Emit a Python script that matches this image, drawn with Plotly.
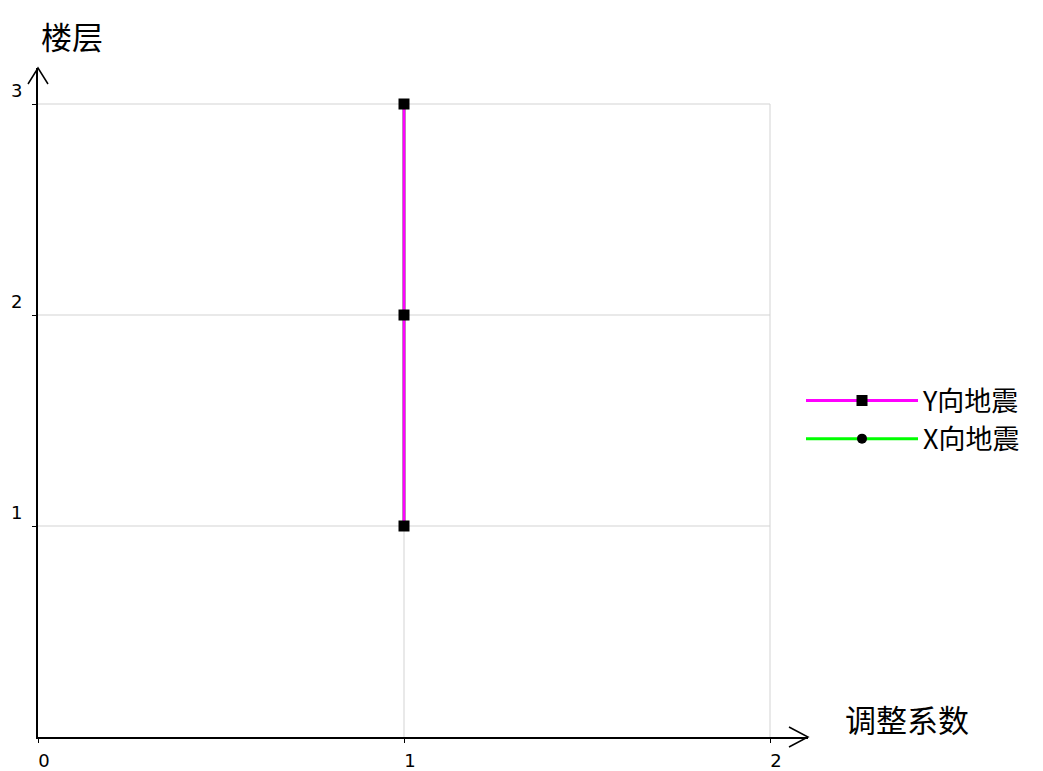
import plotly.graph_objects as go

# ---- data ----
floors = [1, 2, 3]
coef_y = [1, 1, 1]   # Y向地震
coef_x = [1, 1, 1]   # X向地震
x_ticks = [0, 1, 2]
x_ticklabels = ["0", "1", "2"]
y_ticks = [1, 2, 3]
y_ticklabels = ["1", "2", "3"]
name_y = "Y向地震"
name_x = "X向地震"
x_title = "调整系数"
y_title = "楼层"

OFF = 8  # page body margin
W, H = 1043 - OFF, 771 - OFF
L, T = 38 - OFF, 68 - OFF
R = W - (808 - OFF)
B = H - (737 - OFF)
pw, ph = W - L - R, H - T - B
x_max = 2 * pw / 732.0
y_max = 3 * ph / 633.0

cjk = "Noto Sans CJK SC"
fig = go.Figure()

fig.add_trace(go.Scatter(x=coef_x, y=floors, name=name_x, mode="lines+markers",
                         line=dict(color="#00ff00", width=3),
                         marker=dict(symbol="circle", size=10, color="black")))
fig.add_trace(go.Scatter(x=coef_y, y=floors, name=name_y, mode="lines+markers",
                         line=dict(color="#ff00ff", width=3),
                         marker=dict(symbol="square", size=11, color="black")))

shapes = []
# grid lines (stop at last tick)
for xv in x_ticks[1:]:
    shapes.append(dict(type="line", xref="x", yref="y", x0=xv, x1=xv, y0=0, y1=max(y_ticks),
                       line=dict(color="#d3d3d3", width=1), layer="below"))
for yv in y_ticks:
    shapes.append(dict(type="line", xref="x", yref="y", x0=0, x1=max(x_ticks), y0=yv, y1=yv,
                       line=dict(color="#d3d3d3", width=1), layer="below"))
# arrow heads (open V)
ax_back, ax_half = 19 / pw, 10 / ph
shapes.append(dict(type="path", xref="paper", yref="paper",
                   path=f"M {1-ax_back},{ax_half} L 1,0 L {1-ax_back},{-ax_half}",
                   line=dict(color="black", width=1.5)))
ay_back, ay_half = 16 / ph, 10 / pw
shapes.append(dict(type="path", xref="paper", yref="paper",
                   path=f"M {-ay_half},{1-ay_back} L 0,1 L {ay_half},{1-ay_back}",
                   line=dict(color="black", width=1.5)))

annotations = [
    dict(text=y_title, xref="paper", yref="paper", x=(72 - 38) / pw, y=1 + (68 - 35) / ph,
         showarrow=False, font=dict(family=cjk, size=31, color="black"),
         xanchor="center", yanchor="middle"),
    dict(text=x_title, xref="paper", yref="paper", x=(907 - 38) / pw, y=(737 - 718) / ph,
         showarrow=False, font=dict(family=cjk, size=31, color="black"),
         xanchor="center", yanchor="middle"),
]

fig.update_layout(
    width=W, height=H,
    margin=dict(l=L, r=R, t=T, b=B, autoexpand=False),
    paper_bgcolor="white", plot_bgcolor="white",
    shapes=shapes, annotations=annotations,
    showlegend=True,
    legend=dict(x=1.0 - 7 / pw, y=(737 - 420) / ph, xanchor="left", yanchor="middle",
                traceorder="reversed", itemwidth=112, bgcolor="rgba(0,0,0,0)",
                font=dict(family=cjk, size=27, color="black"),
                tracegroupgap=0, itemsizing="trace"),
    xaxis=dict(range=[0, x_max], tickvals=x_ticks, ticktext=x_ticklabels,
               showgrid=False, zeroline=False, showline=True, linecolor="black", linewidth=2,
               ticks="outside", ticklen=4, tickcolor="black", tickwidth=1,
               ticklabelshift=6, ticklabelstandoff=2,
               tickfont=dict(family="DejaVu Sans", size=18, color="black"), fixedrange=True),
    yaxis=dict(range=[0, y_max], tickvals=y_ticks, ticktext=y_ticklabels,
               showgrid=False, zeroline=False, showline=True, linecolor="black", linewidth=2,
               ticks="outside", ticklen=4, tickcolor="black", tickwidth=1,
               ticklabelshift=-13, ticklabelstandoff=6,
               tickfont=dict(family="DejaVu Sans", size=18, color="black"), fixedrange=True),
)

fig.write_html("out.html")
